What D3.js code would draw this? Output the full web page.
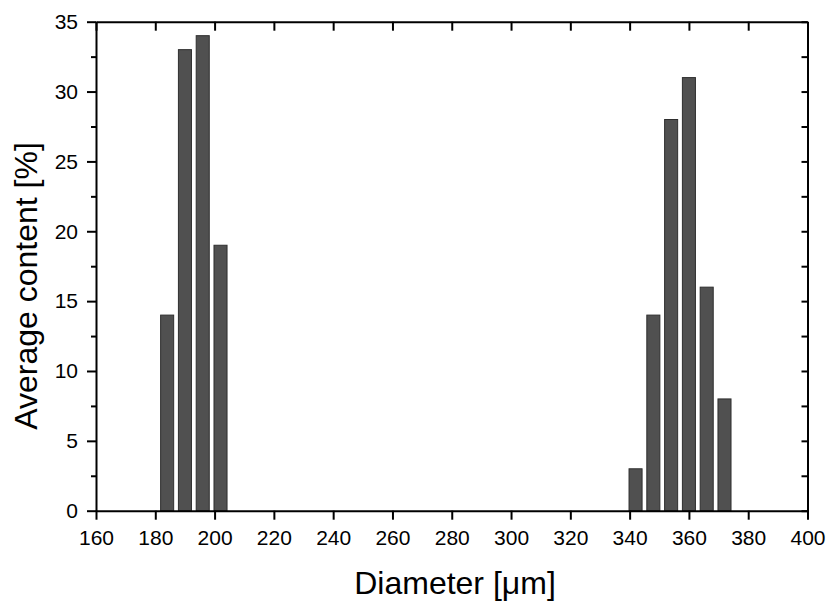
<!DOCTYPE html>
<html>
<head>
<meta charset="utf-8">
<script src="https://cdn.jsdelivr.net/npm/d3@7"></script>
<style>
  body { margin: 0; background: #fff; }
  svg { display: block; font-family: "Liberation Sans", Arial, sans-serif; }
</style>
</head>
<body>
<svg id="chart" width="826" height="601"></svg>
<script>
// bin centres (µm) and their share (%)
const diameters = [184, 190, 196, 202, 342, 348, 354, 360, 366, 372]
const contents = [14, 33, 34, 19, 3, 14, 28, 31, 16, 8]
const xTicks = [160, 180, 200, 220, 240, 260, 280, 300, 320, 340, 360, 380, 400]
const yTicks = [0, 5, 10, 15, 20, 25, 30, 35]
const yMinor = [2.5, 7.5, 12.5, 17.5, 22.5, 27.5, 32.5]

const svg = d3.select('#chart')
const plotLeft = 96, plotRight = 807.5, plotTop = 21.7, plotBottom = 510.7

const x = d3.scaleLinear().domain([160, 400]).range([plotLeft, plotRight])
const y = d3.scaleLinear().domain([0, 35]).range([plotBottom, plotTop])
const binWidth = 4.4

// bars
svg.append('g')
  .selectAll('rect')
  .data(diameters)
  .enter()
  .append('rect')
  .attr('x', d => x(d - binWidth / 2))
  .attr('width', d => x(d + binWidth / 2) - x(d - binWidth / 2))
  .attr('y', (d, i) => y(contents[i]))
  .attr('height', (d, i) => y(0) - y(contents[i]))
  .attr('fill', '#505050')
  .attr('stroke', '#2e2e2e')
  .attr('stroke-width', 1)

// bottom axis
const xAxis = svg.append('g')
  .attr('transform', `translate(0,${plotBottom})`)
  .call(d3.axisBottom(x).tickValues(xTicks).tickSize(9).tickPadding(10).tickSizeOuter(0))
xAxis.select('.domain').attr('stroke-width', 2)
xAxis.selectAll('.tick line').attr('stroke-width', 2)
xAxis.selectAll('.tick text').attr('font-size', 21).attr('fill', '#000')

// top axis, ticks pointing inside
const xTop = svg.append('g')
  .attr('transform', `translate(0,${plotTop})`)
  .call(d3.axisTop(x).tickValues(xTicks).tickSize(-9).tickFormat('').tickSizeOuter(0))
xTop.select('.domain').attr('stroke-width', 2)
xTop.selectAll('.tick line').attr('stroke-width', 2)

// left axis
const yAxis = svg.append('g')
  .attr('transform', `translate(${plotLeft},0)`)
  .call(d3.axisLeft(y).tickValues(yTicks).tickSize(9).tickPadding(9).tickSizeOuter(0))
yAxis.select('.domain').attr('stroke-width', 2)
yAxis.selectAll('.tick line').attr('stroke-width', 2)
yAxis.selectAll('.tick text').attr('font-size', 21).attr('fill', '#000')

svg.append('g')
  .attr('transform', `translate(${plotLeft},0)`)
  .call(d3.axisLeft(y).tickValues(yMinor).tickSize(5).tickFormat('').tickSizeOuter(0))
  .call(g => g.select('.domain').remove())
  .selectAll('.tick line').attr('stroke-width', 2)

// right axis, ticks pointing inside
const yRight = svg.append('g')
  .attr('transform', `translate(${plotRight},0)`)
  .call(d3.axisRight(y).tickValues(yTicks.concat(yMinor)).tickSize(-6).tickFormat('').tickSizeOuter(0))
yRight.select('.domain').attr('stroke-width', 2)
yRight.selectAll('.tick line').attr('stroke-width', 2)

// titles
svg.append('text')
  .attr('x', 455)
  .attr('y', 594)
  .attr('text-anchor', 'middle')
  .attr('font-size', 32)
  .text('Diameter [μm]')

svg.append('text')
  .attr('transform', 'translate(37,286) rotate(-90)')
  .attr('text-anchor', 'middle')
  .attr('font-size', 32)
  .text('Average content [%]')
</script>
</body>
</html>
